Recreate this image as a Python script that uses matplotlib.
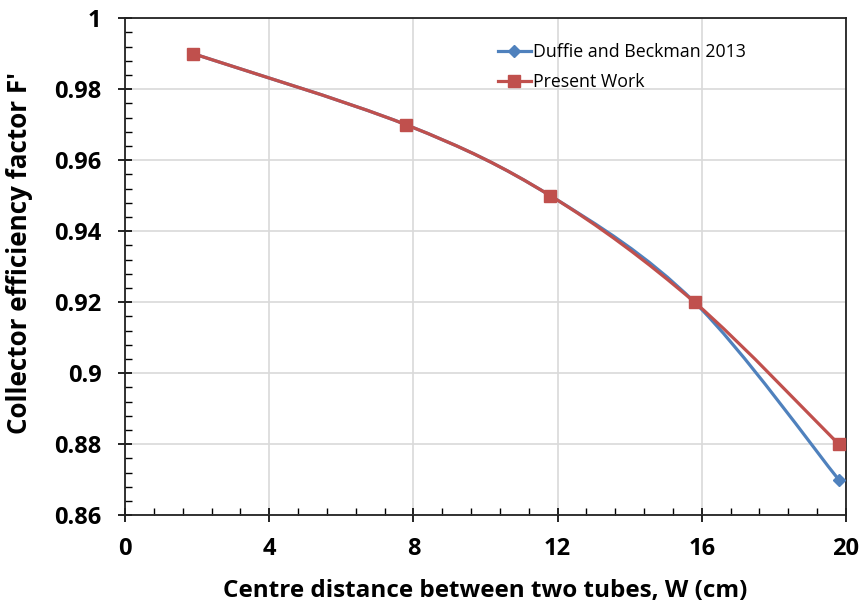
import numpy as np
import matplotlib
matplotlib.use("Agg")
import matplotlib.pyplot as plt
from matplotlib.path import Path
from matplotlib.patches import PathPatch
from matplotlib.ticker import MultipleLocator

# data
w_cm = [1.9, 7.8, 11.8, 15.8, 19.8]
f_duffie = [0.99, 0.97, 0.95, 0.92, 0.87]
f_present = [0.99, 0.97, 0.95, 0.92, 0.88]
y_ticks = [0.86, 0.88, 0.90, 0.92, 0.94, 0.96, 0.98, 1.0]
y_tick_labels = ['0.86', '0.88', '0.9', '0.92', '0.94', '0.96', '0.98', '1']

BLUE = '#4F81BD'
RED = '#C0504D'

plt.rcParams['font.family'] = ['Open Sans', 'DejaVu Sans']


def smooth_path(x, y):
    # Excel-like smoothed line: cubic Bezier through each point (Catmull-Rom)
    pts = np.column_stack([x, y]).astype(float)
    ext = np.vstack([pts[0], pts, pts[-1]])
    verts = [pts[0]]
    codes = [Path.MOVETO]
    for i in range(1, len(ext) - 2):
        p0, p1, p2, p3 = ext[i - 1], ext[i], ext[i + 1], ext[i + 2]
        c1 = p1 + (p2 - p0) / 6.0
        c2 = p2 - (p3 - p1) / 6.0
        verts += [c1, c2, p2]
        codes += [Path.CURVE4] * 3
    return Path(verts, codes)


fig = plt.figure(figsize=(8.65, 6.09), dpi=100)
ax = fig.add_axes([0.1445, 0.154, 0.8335, 0.816])

for ys, col, mk, ms, lab in [(f_duffie, BLUE, 'D', 6, 'Duffie and Beckman 2013'),
                             (f_present, RED, 's', 9, 'Present Work')]:
    ax.add_patch(PathPatch(smooth_path(w_cm, ys), facecolor='none',
                           edgecolor=col, lw=2.3, zorder=3))
    ax.plot(w_cm, ys, linestyle='none', marker=mk, ms=ms, color=col, zorder=4)
    # legend proxy
    ax.plot([], [], color=col, lw=2.3, marker=mk, ms=ms, label=lab)

ax.set_xlim(0, 20)
ax.set_ylim(0.86, 1.0)
ax.xaxis.set_major_locator(MultipleLocator(4))
ax.xaxis.set_minor_locator(MultipleLocator(0.8))
ax.yaxis.set_minor_locator(MultipleLocator(0.004))
ax.set_yticks(y_ticks)
ax.set_yticklabels(y_tick_labels)

ax.grid(True, which='major', color='#D9D9D9', lw=1.2, zorder=0)
ax.set_axisbelow(True)
for s in ax.spines.values():
    s.set_color('#222222')
    s.set_linewidth(1.3)

ax.tick_params(which='major', direction='inout', length=10, width=1.2,
               labelsize=17)
ax.tick_params(axis='x', which='major', pad=11)
ax.tick_params(axis='y', which='major', pad=12)
ax.tick_params(which='minor', direction='in', length=5, width=1)
for t in ax.get_xticklabels() + ax.get_yticklabels():
    t.set_fontweight('bold')

ax.set_xlabel('Centre distance between two tubes, W (cm)', fontsize=17.5,
              fontweight='bold')
ax.set_ylabel("Collector efficiency factor F'", fontsize=18.7,
              fontweight='bold')
ax.xaxis.set_label_coords(0.5, -0.128)
ax.yaxis.set_label_coords(-0.128, 0.527)

ax.legend(loc='upper left', bbox_to_anchor=(0.505, 0.968), frameon=False,
          fontsize=12.8, borderpad=0, handlelength=1.85, handletextpad=0.1,
          labelspacing=0.68)

fig.savefig('out.png', dpi=100)
